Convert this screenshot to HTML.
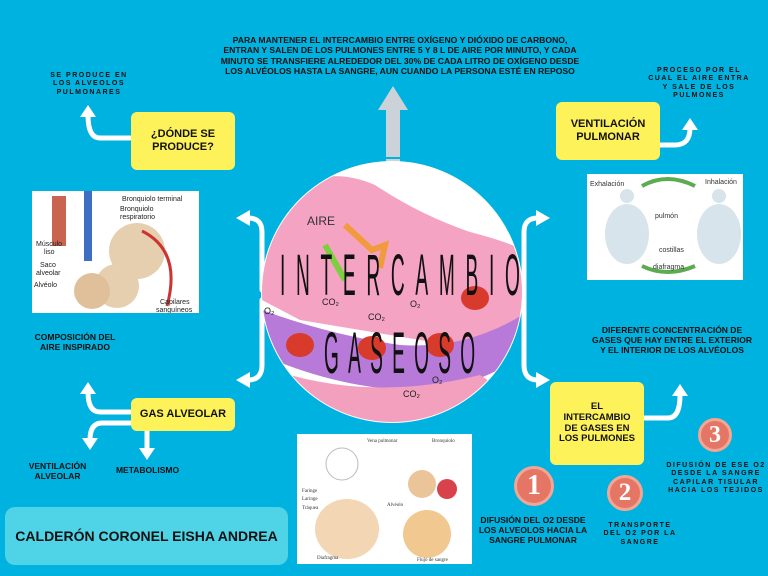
<!DOCTYPE html>
<html><head><meta charset="utf-8">
<style>
body{margin:0;width:768px;height:576px;overflow:hidden;background:#00b2df;font-family:"Liberation Sans",sans-serif;}
.a{position:absolute;}
.t{position:absolute;font-weight:bold;color:#111;text-align:center;line-height:1.2;}
.box{position:absolute;background:#fdf25a;border-radius:6px;display:flex;align-items:center;justify-content:center;text-align:center;font-weight:bold;font-size:11px;color:#111;line-height:1.15;}
.img{position:absolute;background:#fff;}
.num{position:absolute;border-radius:50%;background:#e57665;border:3px solid #f3a694;color:#fff;font-weight:bold;font-family:"Liberation Serif",serif;display:flex;align-items:center;justify-content:center;box-sizing:border-box;}
</style></head><body>
<svg class="a" width="768" height="576" style="left:0;top:0">
 <g fill="none" stroke="#fff" stroke-width="5" stroke-linecap="round">
  <path d="M262 290 V232 Q262 218 248 218"/>
  <path d="M262 300 V365 Q262 380 248 380"/>
  <path d="M524 300 V232 Q524 218 538 218"/>
  <path d="M524 300 V365 Q524 380 538 380"/>
  <path d="M130 138 H100 Q88 138 88 115"/>
  <path d="M660 145 H675 Q690 145 690 128"/>
  <path d="M130 412 H100 Q88 412 88 392"/>
  <path d="M130 423 H102 Q90 423 90 440"/>
  <path d="M147 431 V450"/>
  <path d="M645 418 H668 Q680 418 680 395"/>
 </g>
 <g fill="#fff">
  <polygon points="236,218 250,210 250,226"/>
  <polygon points="236,380 250,372 250,388"/>
  <polygon points="550,218 536,210 536,226"/>
  <polygon points="550,380 536,372 536,388"/>
  <polygon points="88,105 80,117 96,117"/>
  <polygon points="690,118 682,130 698,130"/>
  <polygon points="88,382 80,394 96,394"/>
  <polygon points="90,450 82,438 98,438"/>
  <polygon points="147,460 139,448 155,448"/>
  <polygon points="680,384 672,396 688,396"/>
 </g>
 <g fill="#ccd3d8">
  <polygon points="393,86 378,110 386,110 386,228 400,228 400,110 408,110"/>
 </g>
 <g stroke="#00b2df" stroke-width="2"><line x1="386" y1="158" x2="400" y2="158"/><line x1="386" y1="172" x2="400" y2="172"/><line x1="386" y1="186" x2="400" y2="186"/><line x1="386" y1="200" x2="400" y2="200"/><line x1="386" y1="214" x2="400" y2="214"/></g>
</svg>

<div class="t" style="left:215px;top:35px;width:370px;font-size:8.6px;">PARA MANTENER EL INTERCAMBIO ENTRE OXÍGENO Y DIÓXIDO DE CARBONO, ENTRAN Y SALEN DE LOS PULMONES ENTRE 5 Y 8 L DE AIRE POR MINUTO, Y CADA MINUTO SE TRANSFIERE ALREDEDOR DEL 30% DE CADA LITRO DE OXÍGENO DESDE LOS ALVÉOLOS HASTA LA SANGRE, AUN CUANDO LA PERSONA ESTÉ EN REPOSO</div>

<svg class="a" width="768" height="576" style="left:0;top:0">
 <defs><clipPath id="c"><circle cx="392" cy="292" r="130"/></clipPath></defs>
 <circle cx="392" cy="292" r="131" fill="#fff"/>
 <g clip-path="url(#c)">
  <path d="M285 190 Q330 165 375 185 Q420 215 470 232 Q520 245 530 255 L530 330 Q470 350 420 340 Q360 330 300 320 L262 300 L262 225 Z" fill="#f5a3c2"/>
  <path d="M262 310 Q330 335 400 345 Q470 350 530 310 L530 350 Q470 395 400 390 Q330 385 262 355 Z" fill="#b77ad8"/>
  <path d="M290 375 Q380 400 480 375 L510 395 Q440 435 380 430 Q320 420 290 395 Z" fill="#f2a0be"/>
  <ellipse cx="300" cy="345" rx="14" ry="12" fill="#d83a2c"/>
  <ellipse cx="372" cy="348" rx="14" ry="12" fill="#d83a2c"/>
  <ellipse cx="440" cy="345" rx="14" ry="12" fill="#d83a2c"/>
  <ellipse cx="475" cy="298" rx="14" ry="12" fill="#d83a2c"/>
  <path d="M345 225 L372 250 L385 245 L380 268" stroke="#f19a3e" stroke-width="6" fill="none"/>
  <path d="M345 280 L325 245" stroke="#7ccf3e" stroke-width="6" fill="none"/>
  <text x="307" y="225" font-size="12" fill="#333">AIRE</text>
  <g font-size="9" fill="#222"><text x="322" y="305">CO₂</text><text x="368" y="320">CO₂</text><text x="410" y="307">O₂</text><text x="403" y="397">CO₂</text><text x="432" y="383">O₂</text><text x="264" y="314">O₂</text></g>
 </g>
 <text transform="translate(280,295) scale(0.33,1)" font-size="58" textLength="727" lengthAdjust="spacing" fill="#111" font-family="Liberation Sans">INTERCAMBIO</text>
 <text transform="translate(324,373) scale(0.33,1)" font-size="58" textLength="458" lengthAdjust="spacing" fill="#111" font-family="Liberation Sans">GASEOSO</text>
</svg>

<div class="box" style="left:131px;top:112px;width:104px;height:58px;font-size:11px;">¿DÓNDE SE<br>PRODUCE?</div>
<div class="box" style="left:556px;top:102px;width:104px;height:58px;">VENTILACIÓN<br>PULMONAR</div>
<div class="box" style="left:131px;top:398px;width:104px;height:33px;">GAS ALVEOLAR</div>
<div class="box" style="left:550px;top:382px;width:94px;height:83px;font-size:9.5px;">EL<br>INTERCAMBIO<br>DE GASES EN<br>LOS PULMONES</div>

<div class="t" style="left:45px;top:72px;width:88px;font-size:7px;letter-spacing:1.5px;">SE PRODUCE EN LOS ALVEOLOS PULMONARES</div>
<div class="t" style="left:648px;top:67px;width:102px;font-size:7px;letter-spacing:1.5px;">PROCESO POR EL CUAL EL AIRE ENTRA Y SALE DE LOS PULMONES</div>
<div class="t" style="left:30px;top:332px;width:90px;font-size:8.5px;">COMPOSICIÓN DEL AIRE INSPIRADO</div>
<div class="t" style="left:20px;top:461px;width:75px;font-size:8.5px;">VENTILACIÓN ALVEOLAR</div>
<div class="t" style="left:105px;top:465px;width:85px;font-size:8.5px;">METABOLISMO</div>
<div class="t" style="left:592px;top:325px;width:160px;font-size:8.5px;">DIFERENTE CONCENTRACIÓN DE GASES QUE HAY ENTRE EL EXTERIOR Y EL INTERIOR DE LOS ALVÉOLOS</div>
<div class="t" style="left:472px;top:515px;width:122px;font-size:8.5px;">DIFUSIÓN DEL O2 DESDE LOS ALVEOLOS HACIA LA SANGRE PULMONAR</div>
<div class="t" style="left:600px;top:522px;width:80px;font-size:7px;letter-spacing:1.5px;">TRANSPORTE DEL O2 POR LA SANGRE</div>
<div class="t" style="left:664px;top:462px;width:104px;font-size:7px;letter-spacing:1.5px;">DIFUSIÓN DE ESE O2 DESDE LA SANGRE CAPILAR TISULAR HACIA LOS TEJIDOS</div>

<div class="num" style="left:514px;top:466px;width:40px;height:40px;font-size:28px;">1</div>
<div class="num" style="left:607px;top:475px;width:36px;height:36px;font-size:25px;">2</div>
<div class="num" style="left:698px;top:418px;width:34px;height:34px;font-size:24px;">3</div>

<div class="img" style="left:32px;top:191px;width:167px;height:122px;">
 <svg width="167" height="122"><circle cx="105" cy="60" r="28" fill="#e6cfae"/><circle cx="85" cy="95" r="22" fill="#e6cfae"/><circle cx="60" cy="100" r="18" fill="#dfc09b"/><rect x="20" y="5" width="14" height="50" fill="#c8644f"/><rect x="52" y="0" width="8" height="70" fill="#3f6fc2"/><path d="M110 40 Q150 60 135 115" stroke="#c33" stroke-width="3" fill="none"/>
 <g font-size="7" fill="#222" font-family="Liberation Sans"><text x="90" y="10">Bronquiolo terminal</text><text x="88" y="20">Bronquiolo</text><text x="88" y="28">respiratorio</text><text x="4" y="55">Músculo</text><text x="12" y="63">liso</text><text x="8" y="76">Saco</text><text x="4" y="84">alveolar</text><text x="2" y="96">Alvéolo</text><text x="128" y="113">Capilares</text><text x="124" y="121">sanguíneos</text></g></svg></div>
<div class="img" style="left:587px;top:174px;width:156px;height:106px;">
 <svg width="156" height="106"><path d="M55 12 Q80 -2 108 12" stroke="#5bab4f" stroke-width="4" fill="none"/><path d="M55 92 Q80 104 108 92" stroke="#5bab4f" stroke-width="4" fill="none"/><ellipse cx="40" cy="60" rx="22" ry="30" fill="#d8e4ec"/><ellipse cx="132" cy="60" rx="22" ry="30" fill="#d8e4ec"/><circle cx="40" cy="22" r="7" fill="#d8e4ec"/><circle cx="132" cy="22" r="7" fill="#d8e4ec"/>
 <g font-size="7" fill="#333" font-family="Liberation Sans"><text x="3" y="12">Exhalación</text><text x="118" y="10">Inhalación</text><text x="68" y="44">pulmón</text><text x="72" y="78">costillas</text><text x="66" y="95">diafragma</text></g></svg></div>
<div class="img" style="left:297px;top:434px;width:175px;height:130px;">
 <svg width="175" height="130"><ellipse cx="50" cy="95" rx="32" ry="30" fill="#f3d6b4"/><circle cx="45" cy="30" r="16" fill="none" stroke="#bbb"/><ellipse cx="130" cy="100" rx="24" ry="24" fill="#f0c890"/><circle cx="125" cy="50" r="14" fill="#ecc49a"/><circle cx="150" cy="55" r="10" fill="#d8424a"/>
 <g font-size="5" fill="#333" font-family="Liberation Serif"><text x="70" y="8">Vena pulmonar</text><text x="135" y="8">Bronquiolo</text><text x="5" y="58">Faringe</text><text x="5" y="66">Laringe</text><text x="5" y="75">Tráquea</text><text x="90" y="72">Alvéolo</text><text x="20" y="125">Diafragma</text><text x="120" y="127">Flujo de sangre</text></g></svg></div>

<div class="a" style="left:5px;top:507px;width:283px;height:58px;background:#4fd3e6;border-radius:10px;display:flex;align-items:center;justify-content:center;font-weight:bold;font-size:14px;color:#111;">CALDERÓN CORONEL EISHA ANDREA</div>
</body></html>
